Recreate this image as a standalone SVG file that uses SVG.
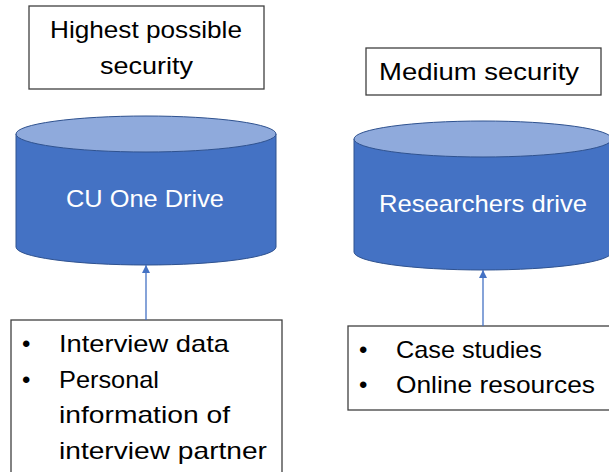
<svg xmlns="http://www.w3.org/2000/svg" width="609" height="472" viewBox="0 0 609 472">
<defs>
<style>
.box{fill:#fff;stroke:#404040;stroke-width:1.3}
.t{font-family:"Liberation Sans",Arial,sans-serif;font-size:24px;fill:#000}
.w{font-family:"Liberation Sans",Arial,sans-serif;font-size:24px;fill:#fff}
.body{fill:#4472C4;stroke:#2F528F;stroke-width:1}
.top{fill:#8FAADC;stroke:#2F528F;stroke-width:1}
.conn{stroke:#4472C4;stroke-width:1.3;fill:none}
</style>
<marker id="ah" viewBox="0 0 10 10" refX="10" refY="5" markerWidth="8" markerHeight="8" markerUnits="userSpaceOnUse" orient="auto">
<path d="M0,0 L10,5 L0,10 z" fill="#4472C4"/>
</marker>
</defs>
<rect width="609" height="472" fill="#fff"/>
<g id="label-high">
<rect class="box" x="29" y="6" width="235" height="83"/>
<text class="t" x="50" y="38" textLength="192" lengthAdjust="spacingAndGlyphs">Highest possible</text>
<text class="t" x="100" y="74" textLength="93" lengthAdjust="spacingAndGlyphs">security</text>
</g>
<g id="label-medium">
<rect class="box" x="366" y="48" width="235" height="47"/>
<text class="t" x="379" y="80" textLength="200" lengthAdjust="spacingAndGlyphs">Medium security</text>
</g>
<g id="cu-one-drive">
<path class="body" d="M16,134 L16,247 A130,18 0 0 0 276,247 L276,134 Z"/>
<ellipse class="top" cx="146" cy="134" rx="130" ry="18"/>
<text class="w" x="66" y="207" textLength="158" lengthAdjust="spacingAndGlyphs">CU One Drive</text>
</g>
<g id="researchers-drive">
<path class="body" d="M354,139 L354,252 A129,18 0 0 0 612,252 L612,139 Z"/>
<ellipse class="top" cx="483" cy="139" rx="129" ry="18"/>
<text class="w" x="379" y="212" textLength="208" lengthAdjust="spacingAndGlyphs">Researchers drive</text>
</g>
<g id="list-left">
<rect class="box" x="11" y="320" width="271" height="160"/>
<text class="t" x="22" y="352">•</text>
<text class="t" x="59" y="352" textLength="170" lengthAdjust="spacingAndGlyphs">Interview data</text>
<text class="t" x="22" y="388">•</text>
<text class="t" x="59" y="388" textLength="100" lengthAdjust="spacingAndGlyphs">Personal</text>
<text class="t" x="59" y="423" textLength="171" lengthAdjust="spacingAndGlyphs">information of</text>
<text class="t" x="59" y="459" textLength="208" lengthAdjust="spacingAndGlyphs">interview partner</text>
</g>
<g id="list-right">
<rect class="box" x="348" y="326" width="270" height="84"/>
<text class="t" x="359" y="358">•</text>
<text class="t" x="396" y="358" textLength="146" lengthAdjust="spacingAndGlyphs">Case studies</text>
<text class="t" x="359" y="393">•</text>
<text class="t" x="396" y="393" textLength="199" lengthAdjust="spacingAndGlyphs">Online resources</text>
</g>
<g id="connectors">
<line class="conn" x1="146" y1="320" x2="146" y2="265" marker-end="url(#ah)"/>
<line class="conn" x1="483" y1="326" x2="483" y2="270" marker-end="url(#ah)"/>
</g>
</svg>
